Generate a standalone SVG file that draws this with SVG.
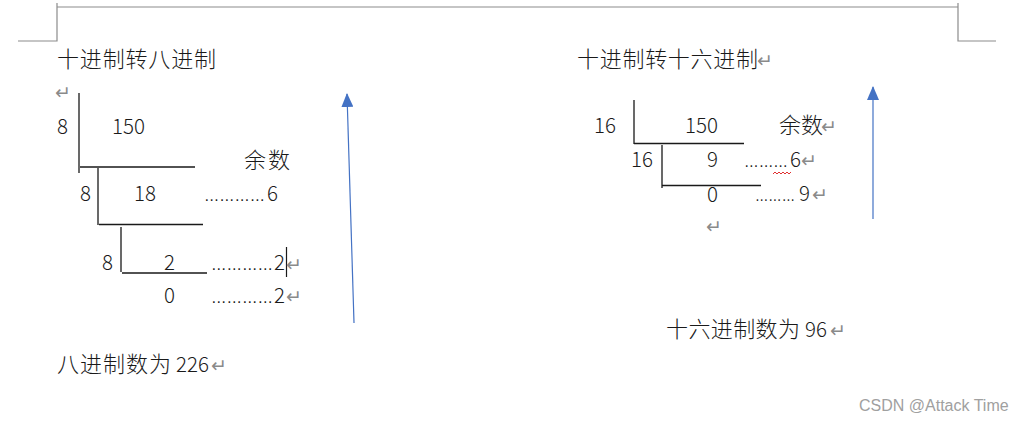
<svg xmlns="http://www.w3.org/2000/svg" width="1024" height="421" viewBox="0 0 1024 421">
<defs>
<style>
.t{font-family:"Noto Sans CJK SC","Liberation Sans",sans-serif;font-size:22px;font-weight:300;fill:#1a1a1a}
.n{font-family:"Noto Sans CJK SC","Liberation Sans",sans-serif;font-size:20.5px;font-weight:300;fill:#1a1a1a}
.r{font-family:"DejaVu Sans",sans-serif;font-size:19px;fill:#8a8a8a}
.d{font-family:"Liberation Sans",sans-serif;font-size:16px;fill:#1a1a1a}
.ln{stroke:#1a1a1a;stroke-width:1.3;fill:none}
.pg{stroke:#8c8c8c;stroke-width:1.2;fill:none}
.ar{stroke:#4472c4;stroke-width:1.2;fill:none}
.wm{font-family:"Liberation Sans",sans-serif;font-size:16px;fill:#a0a0a0}
</style>
<marker id="ah" viewBox="0 0 14 12" refX="13" refY="6" markerWidth="14" markerHeight="12" markerUnits="userSpaceOnUse" orient="auto">
<path d="M0,0 L14,6 L0,12 Z" fill="#4472c4"/>
</marker>
</defs>
<rect width="1024" height="421" fill="#ffffff"/>

<g id="page-corners">
<path class="pg" d="M57,7 H958 M57,3 V41 H18 M958,3 V41 H996"/>
</g>

<g id="octal-title">
<text class="t" x="57" y="67" textLength="159" lengthAdjust="spacing">十进制转八进制</text>
<text class="r" x="55" y="99">↵</text>
</g>

<g id="octal-step1">
<text class="n" x="57" y="134">8</text>
<text class="n" x="112" y="134">150</text>
<text class="t" x="244" y="168" textLength="46" lengthAdjust="spacing">余数</text>
</g>

<g id="octal-step2">
<text class="n" x="80" y="201">8</text>
<text class="n" x="134" y="201">18</text>
<text class="d" x="204" y="201" textLength="61" lengthAdjust="spacingAndGlyphs">…………</text>
<text class="n" x="267" y="201">6</text>
</g>

<g id="octal-step3">
<text class="n" x="102" y="270">8</text>
<text class="n" x="164" y="270">2</text>
<text class="d" x="211" y="270" textLength="62" lengthAdjust="spacingAndGlyphs">…………</text>
<text class="n" x="274" y="270">2</text>
<line x1="286.5" y1="247" x2="286.5" y2="277" stroke="#1a1a1a" stroke-width="1.2"/>
<text class="r" x="286" y="271">↵</text>
</g>

<g id="octal-step4">
<text class="n" x="164" y="303">0</text>
<text class="d" x="211" y="303" textLength="62" lengthAdjust="spacingAndGlyphs">…………</text>
<text class="n" x="274" y="303">2</text>
<text class="r" x="286" y="303">↵</text>
</g>

<g id="octal-result">
<text class="t" x="57" y="372" textLength="114" lengthAdjust="spacing">八进制数为</text>
<text class="n" x="176" y="372">226</text>
<text class="r" x="211" y="372">↵</text>
</g>

<g id="hex-title">
<text class="t" x="577" y="67" textLength="181" lengthAdjust="spacing">十进制转十六进制</text>
<text class="r" x="757" y="67">↵</text>
</g>

<g id="hex-step1">
<text class="n" x="594" y="133">16</text>
<text class="n" x="685" y="133">150</text>
<text class="t" x="779" y="133" textLength="44" lengthAdjust="spacing">余数</text>
<text class="r" x="821" y="133">↵</text>
</g>

<g id="hex-step2">
<text class="n" x="631" y="167">16</text>
<text class="n" x="707" y="167">9</text>
<text class="d" x="744" y="167" textLength="44" lengthAdjust="spacingAndGlyphs">………</text>
<text class="n" x="790" y="167">6</text>
<text class="r" x="801" y="167">↵</text>
<path d="M773,174 l2,-2 l2,2 l2,-2 l2,2 l2,-2 l2,2 l2,-2 l2,2 l2,-2" stroke="#e03030" stroke-width="1" fill="none"/>
</g>

<g id="hex-step3">
<text class="n" x="707" y="202">0</text>
<text class="d" x="755" y="201" textLength="40" lengthAdjust="spacingAndGlyphs">………</text>
<text class="n" x="799" y="201">9</text>
<text class="r" x="812" y="201">↵</text>
<text class="r" x="706" y="233">↵</text>
</g>

<g id="hex-result">
<text class="t" x="666" y="337" textLength="134" lengthAdjust="spacing">十六进制数为</text>
<text class="n" x="805" y="337">96</text>
<text class="r" x="830" y="337">↵</text>
</g>

<g id="connectors">
<path class="ln" d="M79,93 V173 M80,167 H195"/>
<path class="ln" d="M98,168 V225 M99,224.5 H203"/>
<path class="ln" d="M121,227 V272 M122,273 H207"/>
<path class="ln" d="M634,100 V144 M634,143.5 H744"/>
<path class="ln" d="M662,145 V188 M662,185.5 H761"/>
<line class="ar" x1="354" y1="323" x2="347" y2="94" marker-end="url(#ah)"/>
<line class="ar" x1="873" y1="219" x2="873" y2="87" marker-end="url(#ah)"/>
</g>

<g id="watermark">
<text class="wm" x="859" y="411">CSDN @Attack Time</text>
</g>
</svg>
